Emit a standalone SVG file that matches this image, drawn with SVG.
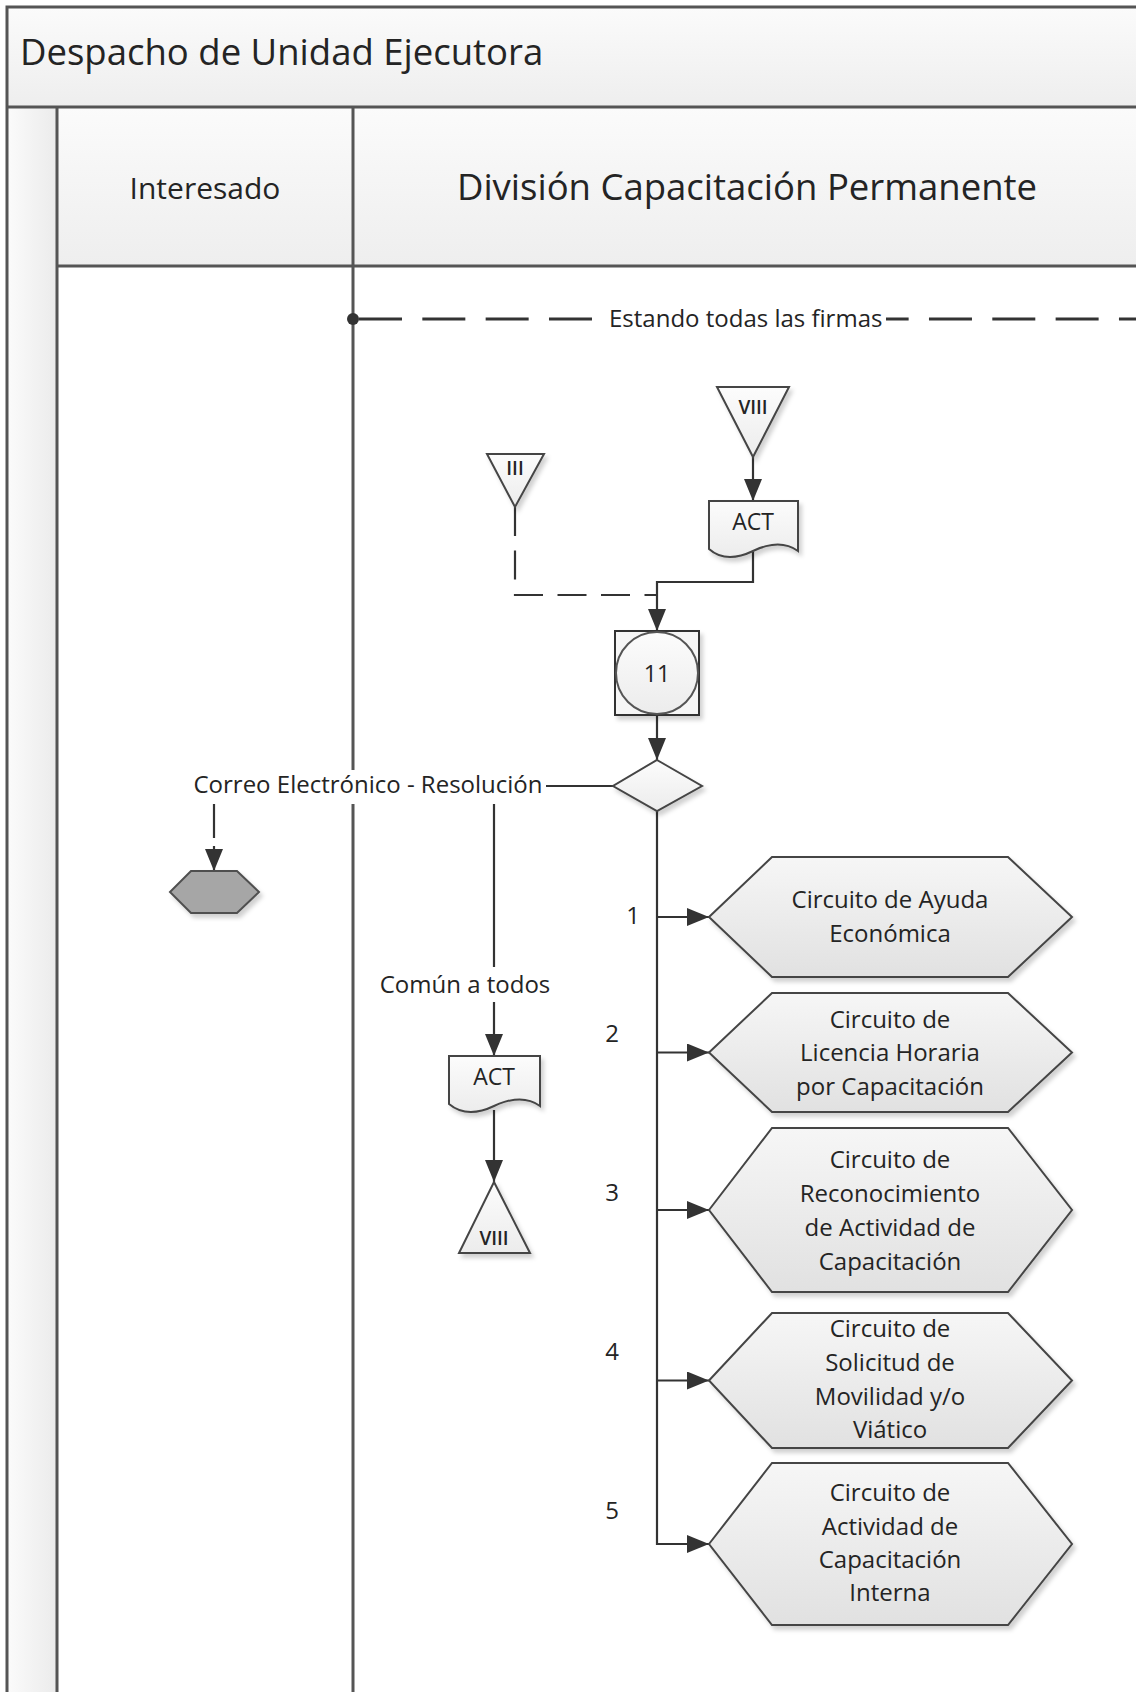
<svg xmlns="http://www.w3.org/2000/svg" width="1136" height="1692" viewBox="0 0 1136 1692">
  <defs>
    <linearGradient id="bandFill" x1="0" y1="0" x2="0" y2="1">
      <stop offset="0" stop-color="#fbfbfb"/>
      <stop offset="1" stop-color="#eeeeee"/>
    </linearGradient>
    <linearGradient id="stripFill" x1="0" y1="0" x2="1" y2="0">
      <stop offset="0" stop-color="#fbfbfb"/>
      <stop offset="1" stop-color="#ebebeb"/>
    </linearGradient>
    <linearGradient id="nodeFill" x1="0" y1="0" x2="0" y2="1">
      <stop offset="0" stop-color="#f6f6f6"/>
      <stop offset="1" stop-color="#e1e1e1"/>
    </linearGradient>
    <linearGradient id="lightFill" x1="0" y1="0" x2="0" y2="1">
      <stop offset="0" stop-color="#fcfcfc"/>
      <stop offset="1" stop-color="#ececec"/>
    </linearGradient>
    <filter id="shadow" x="-10%" y="-10%" width="130%" height="130%">
      <feDropShadow dx="3" dy="4" stdDeviation="2" flood-color="#000" flood-opacity="0.18"/>
    </filter>
    <marker id="arrow" viewBox="0 0 22 18" refX="22" refY="9" markerWidth="22" markerHeight="18" markerUnits="userSpaceOnUse" orient="auto">
      <path d="M0,0 L22,9 L0,18 Z" fill="#333333"/>
    </marker>
    <style>
      .frame { fill: none; stroke: #555555; stroke-width: 3; }
      .conn { fill: none; stroke: #333333; stroke-width: 2.2; }
      .dash { stroke-dasharray: 29 14.5; }
      .node { fill: url(#nodeFill); stroke: #454545; stroke-width: 2; filter: url(#shadow); }
      .light { fill: url(#lightFill); stroke: #454545; stroke-width: 2; filter: url(#shadow); }
      .txt { font-family: "Open Sans", "Liberation Sans", sans-serif; fill: #242424; }
      .lbl { font-size: 24px; }
      .mid { text-anchor: middle; }
      .num { font-size: 19px; font-weight: 600; text-anchor: middle; }
      .bg { fill: #ffffff; }
    </style>
  </defs>

  <rect width="1136" height="1692" fill="#ffffff"/>

  <!-- Pool and lanes -->
  <g id="pool">
    <rect x="7" y="7" width="1140" height="100" fill="url(#bandFill)"/>
    <rect x="57" y="107" width="1090" height="159" fill="url(#bandFill)"/>
    <rect x="7" y="107" width="50" height="1600" fill="url(#stripFill)"/>
    <path class="frame" d="M1140,7 H7 V1700"/>
    <path class="frame" d="M7,107 H1140"/>
    <path class="frame" d="M57,266 H1140"/>
    <path class="frame" d="M57,107 V1700"/>
    <path class="frame" d="M353,107 V1700"/>
    <text class="txt" x="20" y="65" font-size="36.5">Despacho de Unidad Ejecutora</text>
    <text class="txt mid" x="205" y="199" font-size="30">Interesado</text>
    <text class="txt mid" x="747" y="200" font-size="36.5">División Capacitación Permanente</text>
  </g>

  <!-- Connectors -->
  <g id="connectors">
    <!-- condition line across the lane -->
    <line x1="359" y1="319" x2="1136" y2="319" stroke="#333333" stroke-width="3" stroke-dasharray="43 20.33"/>
    <circle cx="353" cy="319" r="6" fill="#333333"/>
    <rect class="bg" x="600" y="304" width="286" height="30"/>
    <text class="txt lbl" x="609" y="327">Estando todas las firmas</text>

    <!-- VIII -> ACT -->
    <path class="conn" d="M753,457 V501" marker-end="url(#arrow)"/>
    <!-- III -> 11 (dashed) -->
    <path class="conn dash" d="M515,507 V595 H657"/>
    <!-- ACT -> 11 -->
    <path class="conn" d="M753,552 V582 H657 V631" marker-end="url(#arrow)"/>
    <!-- 11 -> decision -->
    <path class="conn" d="M657,715 V760" marker-end="url(#arrow)"/>

    <!-- decision -> left (mail / common) -->
    <path class="conn" d="M613,786 H214"/>
    <path class="conn" d="M494,786 V1056" marker-end="url(#arrow)"/>
    <path class="conn" d="M214,786 V838"/>
    <path class="conn" d="M214,846 V871" marker-end="url(#arrow)"/>
    <rect class="bg" x="188" y="770" width="358" height="34"/>
    <text class="txt lbl mid" x="368" y="793">Correo Electrónico - Resolución</text>
    <rect class="bg" x="378" y="967" width="174" height="35"/>
    <text class="txt lbl mid" x="465" y="993">Común a todos</text>

    <!-- ACT -> VIII -->
    <path class="conn" d="M494,1110 V1182" marker-end="url(#arrow)"/>

    <!-- decision branches -->
    <path class="conn" d="M657,811 V1544 H709" marker-end="url(#arrow)"/>
    <path class="conn" d="M657,917 H709" marker-end="url(#arrow)"/>
    <path class="conn" d="M657,1052.5 H709" marker-end="url(#arrow)"/>
    <path class="conn" d="M657,1210 H709" marker-end="url(#arrow)"/>
    <path class="conn" d="M657,1380.5 H709" marker-end="url(#arrow)"/>
    <text class="txt lbl mid" x="633" y="924">1</text>
    <text class="txt lbl mid" x="612" y="1042">2</text>
    <text class="txt lbl mid" x="612" y="1201">3</text>
    <text class="txt lbl mid" x="612" y="1360">4</text>
    <text class="txt lbl mid" x="612" y="1519">5</text>
  </g>

  <!-- Nodes -->
  <g id="ref-viii-in">
    <path class="light" d="M717,387 L789,387 L753,457 Z"/>
    <text class="txt num" x="753" y="414">VIII</text>
  </g>

  <g id="ref-iii-in">
    <path class="light" d="M487,454 L544,454 L515,507 Z"/>
    <text class="txt num" x="515" y="475">III</text>
  </g>

  <g id="doc-act-1">
    <path class="light" d="M709,501 H798 V551 Q780,538 753,551 Q726,564 709,549 Z"/>
    <text class="txt mid" x="753" y="530" font-size="23">ACT</text>
  </g>

  <g id="task-11">
    <rect x="615" y="631" width="84" height="84" fill="#f6f6f6" stroke="#333333" stroke-width="2" filter="url(#shadow)"/>
    <circle cx="657" cy="673" r="41" fill="url(#lightFill)" stroke="#555555" stroke-width="2"/>
    <text class="txt mid" x="657" y="682" font-size="23">11</text>
  </g>

  <g id="decision">
    <path class="light" d="M657,760 L702,786 L657,811 L613,786 Z"/>
  </g>

  <g id="end-mail">
    <path d="M170,892 L191,871 L237,871 L259,892 L237,913 L191,913 Z" fill="#a6a6a6" stroke="#505050" stroke-width="2" filter="url(#shadow)"/>
  </g>

  <g id="doc-act-2">
    <path class="light" d="M449,1056 H540 V1106 Q522,1093 494,1106 Q467,1119 449,1104 Z"/>
    <text class="txt mid" x="494" y="1085" font-size="23">ACT</text>
  </g>

  <g id="ref-viii-out">
    <path class="light" d="M494,1182 L530,1253 L459,1253 Z"/>
    <text class="txt num" x="494" y="1245">VIII</text>
  </g>

  <g id="circuit-1">
    <path class="node" d="M709,917 L772,857 L1008,857 L1072,917 L1008,977 L772,977 Z"/>
    <text class="txt lbl mid" x="890" y="908">Circuito de Ayuda</text>
    <text class="txt lbl mid" x="890" y="942">Económica</text>
  </g>

  <g id="circuit-2">
    <path class="node" d="M709,1052.5 L772,993 L1008,993 L1072,1052.5 L1008,1112 L772,1112 Z"/>
    <text class="txt lbl mid" x="890" y="1028">Circuito de</text>
    <text class="txt lbl mid" x="890" y="1061">Licencia Horaria</text>
    <text class="txt lbl mid" x="890" y="1095">por Capacitación</text>
  </g>

  <g id="circuit-3">
    <path class="node" d="M709,1210 L772,1128 L1008,1128 L1072,1210 L1008,1292 L772,1292 Z"/>
    <text class="txt lbl mid" x="890" y="1168">Circuito de</text>
    <text class="txt lbl mid" x="890" y="1202">Reconocimiento</text>
    <text class="txt lbl mid" x="890" y="1236">de Actividad de</text>
    <text class="txt lbl mid" x="890" y="1270">Capacitación</text>
  </g>

  <g id="circuit-4">
    <path class="node" d="M709,1380.5 L772,1313 L1008,1313 L1072,1380.5 L1008,1448 L772,1448 Z"/>
    <text class="txt lbl mid" x="890" y="1337">Circuito de</text>
    <text class="txt lbl mid" x="890" y="1371">Solicitud de</text>
    <text class="txt lbl mid" x="890" y="1405">Movilidad y/o</text>
    <text class="txt lbl mid" x="890" y="1438">Viático</text>
  </g>

  <g id="circuit-5">
    <path class="node" d="M709,1544 L772,1463 L1008,1463 L1072,1544 L1008,1625 L772,1625 Z"/>
    <text class="txt lbl mid" x="890" y="1501">Circuito de</text>
    <text class="txt lbl mid" x="890" y="1535">Actividad de</text>
    <text class="txt lbl mid" x="890" y="1568">Capacitación</text>
    <text class="txt lbl mid" x="890" y="1601">Interna</text>
  </g>
</svg>
